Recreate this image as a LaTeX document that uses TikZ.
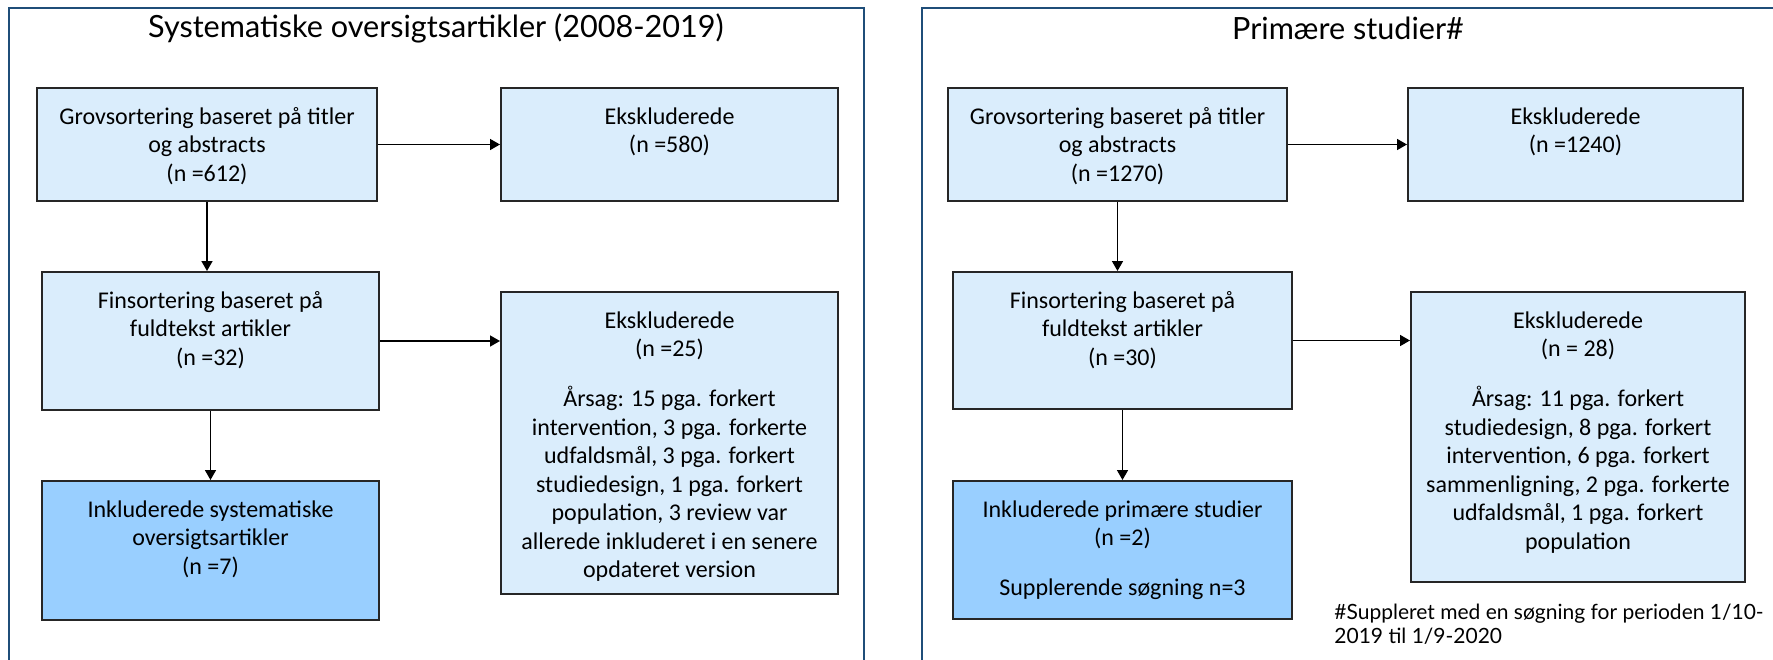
\documentclass[tikz,border=0pt]{standalone}
\usepackage{fontspec}
\setmainfont{Carlito}
\newfontfamily\rubrik{Lato}
\usetikzlibrary{arrows.meta,positioning}
\definecolor{ramme}{RGB}{31,78,121}
\definecolor{lysblaa}{RGB}{218,237,252}
\definecolor{blaa}{RGB}{153,207,255}
\tikzset{
  boks/.style={draw=black!85, line width=1pt, fill=lysblaa, inner sep=0pt},
  inkl/.style={boks, fill=blaa},
  tekst/.style={anchor=north, align=center, inner sep=0pt, font=\fontsize{12}{14.25}\selectfont},
  pil/.style={-{Triangle[length=5pt,width=5.5pt]}, line width=0.8pt},
  rammen/.style={draw=ramme, line width=1.3pt},
  titel/.style={font=\rubrik\fontsize{15.3}{17}\selectfont, inner sep=0pt}
}
\begin{document}
\begin{tikzpicture}[x=0.5pt,y=-0.5pt]
\useasboundingbox (0,0) rectangle (1773,659);
\draw[rammen] (9,700) -- (9,8) -- (864,8) -- (864,700);
\draw[rammen] (922,700) -- (922,8) -- (1800,8);
\node[titel] (vtitel) at (436,28) {Systematiske oversigtsartikler (2008-2019)};
\node[titel] (htitel) at (1348,28) {Primære studier\#};

\node[boks, minimum width=170pt, minimum height=56.5pt] (vg) at (207,144.5) {};
\node[tekst] (vgt) at ([yshift=-10pt]vg.north) {Grovsortering baseret på titler\\og abstracts\\(n =612)};
\node[boks, minimum width=168.5pt, minimum height=56.5pt] (ve1) at (669.5,144.5) {};
\node[tekst] (ve1t) at ([yshift=-10pt]ve1.north) {Ekskluderede\\(n =580)};
\node[boks, minimum width=168.5pt, minimum height=69pt] (vf) at (210.5,341) {};
\node[tekst] (vft) at ([yshift=-10pt]vf.north) {Finsortering baseret på\\fuldtekst artikler\\(n =32)};
\node[boks, minimum width=168.5pt, minimum height=151pt] (ve2) at (669.5,443) {};
\node[tekst] (ve2t) at ([yshift=-10pt]ve2.north) {Ekskluderede\\(n =25)\\[10.75pt]Årsag: 15 pga. forkert\\intervention, 3 pga. forkerte\\udfaldsmål, 3 pga. forkert\\studiedesign, 1 pga. forkert\\population, 3 review var\\allerede inkluderet i en senere\\opdateret version};
\node[inkl, minimum width=168.5pt, minimum height=69.5pt] (vi) at (210.5,550.5) {};
\node[tekst] (vit) at ([yshift=-10pt]vi.north) {Inkluderede systematiske\\oversigtsartikler\\(n =7)};

\draw[pil] (vg.east) -- (ve1.west);
\draw[pil] (vg.south) -- (vg.south |- vf.north);
\draw[pil] (vf.east) -- (vf.east -| ve2.west);
\draw[pil] (vf.south) -- (vi.north);

\node[boks, minimum width=169.5pt, minimum height=56.5pt] (hg) at (1117.5,144.5) {};
\node[tekst] (hgt) at ([yshift=-10pt]hg.north) {Grovsortering baseret på titler\\og abstracts\\(n =1270)};
\node[boks, minimum width=167.5pt, minimum height=56.5pt] (he1) at (1575.5,144.5) {};
\node[tekst] (he1t) at ([yshift=-10pt]he1.north) {Ekskluderede\\(n =1240)};
\node[boks, minimum width=169.5pt, minimum height=68.5pt] (hf) at (1122.5,340.5) {};
\node[tekst] (hft) at ([yshift=-10pt]hf.north) {Finsortering baseret på\\fuldtekst artikler\\(n =30)};
\node[boks, minimum width=167pt, minimum height=145pt] (he2) at (1578,437) {};
\node[tekst] (he2t) at ([yshift=-10pt]he2.north) {Ekskluderede\\(n = 28)\\[10.75pt]Årsag: 11 pga. forkert\\studiedesign, 8 pga. forkert\\intervention, 6 pga. forkert\\sammenligning, 2 pga. forkerte\\udfaldsmål, 1 pga. forkert\\population};
\node[inkl, minimum width=169.5pt, minimum height=69pt] (hi) at (1122.5,550) {};
\node[tekst] (hit) at ([yshift=-10pt]hi.north) {Inkluderede primære studier\\(n =2)\\[10.75pt]Supplerende søgning n=3};

\draw[pil] (hg.east) -- (he1.west);
\draw[pil] (hg.south) -- (hg.south |- hf.north);
\draw[pil] (hf.east) -- (hf.east -| he2.west);
\draw[pil] (hf.south) -- (hi.north);

\node[anchor=north west, align=left, inner sep=0pt, font=\rubrik\fontsize{10.5}{12}\selectfont] (fodnote) at (1334,604) {\#Suppleret med en søgning for perioden 1/10-\\2019 til 1/9-2020};
\end{tikzpicture}
\end{document}
